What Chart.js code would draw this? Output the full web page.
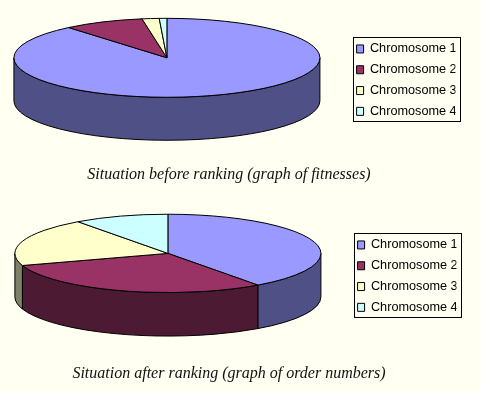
<!DOCTYPE html>
<html>
<head>
<meta charset="utf-8">
<script src="https://cdn.jsdelivr.net/npm/chart.js"></script>
<style>
  html, body { margin: 0; padding: 0; background: #FFFFF2; }
  body { position: relative; width: 481px; height: 393px; overflow: hidden; }
  canvas { position: absolute; left: 0; }
  .caption {
    position: absolute; left: 0; width: 458px; text-align: center;
    font: italic 16px "Liberation Serif", serif; color: #111; white-space: nowrap;
  }
</style>
</head>
<body>
<canvas id="before" width="481" height="195" style="top:0"></canvas>
<canvas id="after" width="481" height="198" style="top:195px"></canvas>
<div class="caption" id="captionBefore" style="top:165px"></div>
<div class="caption" id="captionAfter" style="top:364px"></div>
<script>
// Data
const categories = ['Chromosome 1', 'Chromosome 2', 'Chromosome 3', 'Chromosome 4'];
const fitnessValues = [88.9, 8.5, 1.8, 0.8];
const orderValues = [4, 3, 2, 1];
const captions = ['Situation before ranking (graph of fitnesses)', 'Situation after ranking (graph of order numbers)'];

const topColors = ['#9999FF', '#993366', '#FFFFCC', '#CCFFFF'];
const sideColors = ['#4F5186', '#4D1A33', '#808066', '#668080'];

// Draws the arcs as a tilted disc, using the angles the doughnut controller worked out
const tiltedPie = {
    id: 'tiltedPie',
    afterLayout(chart, args, opts) {
        // put the legend where the frame is, the layout only knows about edges
        const legend = chart.legend;
        legend.left = opts.frame.x - 5;
        legend.right = legend.left + opts.frame.w;
        legend.top = opts.frame.y - 3;
        legend.bottom = legend.top + opts.frame.h + 20; // room so the last row doesn't wrap
        legend.adjustHitBoxes();
    },
    beforeDatasetsDraw(chart, args, opts) {
        const ctx = chart.ctx;
        const arcs = chart.getDatasetMeta(0).data;
        ctx.save();
        ctx.lineWidth = 1;
        ctx.strokeStyle = '#000';
        ctx.lineJoin = 'round';

        arcs.forEach((arc, i) => {
            const from = Math.max(arc.startAngle, 0);
            const to = Math.min(arc.endAngle, Math.PI);
            if (to <= from) return;
            const ry = arc.outerRadius * opts.tilt;
            ctx.beginPath();
            ctx.ellipse(arc.x, arc.y, arc.outerRadius, ry, 0, from, to);
            ctx.ellipse(arc.x, arc.y + opts.depth, arc.outerRadius, ry, 0, to, from, true);
            ctx.closePath();
            ctx.fillStyle = sideColors[i];
            ctx.fill();
            ctx.stroke();
        });

        arcs.forEach((arc, i) => {
            ctx.beginPath();
            ctx.moveTo(arc.x, arc.y);
            ctx.ellipse(arc.x, arc.y, arc.outerRadius, arc.outerRadius * opts.tilt, 0, arc.startAngle, arc.endAngle);
            ctx.closePath();
            ctx.fillStyle = topColors[i];
            ctx.fill();
            ctx.stroke();
        });
        ctx.restore();
        return false;
    },
    afterDraw(chart, args, opts) {
        const ctx = chart.ctx;
        const f = opts.frame;
        ctx.save();
        ctx.lineWidth = 1;
        ctx.strokeStyle = '#000';
        ctx.strokeRect(f.x, f.y, f.w, f.h);
        ctx.restore();
    }
};

function makePie(id, values, padding, pie) {
    return new Chart(document.getElementById(id), {
        type: 'pie',
        data: {
            labels: categories,
            datasets: [{
                data: values,
                backgroundColor: topColors,
                borderColor: '#000',
                borderWidth: 1,
                radius: 153
            }]
        },
        options: {
            responsive: false,
            animation: false,
            events: [],
            layout: { padding: padding },
            plugins: {
                tiltedPie: pie,
                tooltip: { enabled: false },
                legend: {
                    position: 'right',
                    align: 'start',
                    labels: {
                        boxWidth: 7,
                        boxHeight: 8,
                        padding: 8.1,
                        color: '#000',
                        font: { family: '"Liberation Sans", Arial, sans-serif', size: 12.7 }
                    }
                }
            }
        },
        plugins: [tiltedPie]
    });
}

makePie('before', fitnessValues, { top: 0, bottom: 79.4, right: 29 },
    { tilt: 0.258, depth: 43, frame: { x: 353.5, y: 37.5, w: 107, h: 84 } });
makePie('after', orderValues, { top: 0, bottom: 81.2, right: 27 },
    { tilt: 0.256, depth: 43.5, frame: { x: 354.5, y: 38.5, w: 107, h: 84 } });

document.getElementById('captionBefore').textContent = captions[0];
document.getElementById('captionAfter').textContent = captions[1];
</script>
</body>
</html>
